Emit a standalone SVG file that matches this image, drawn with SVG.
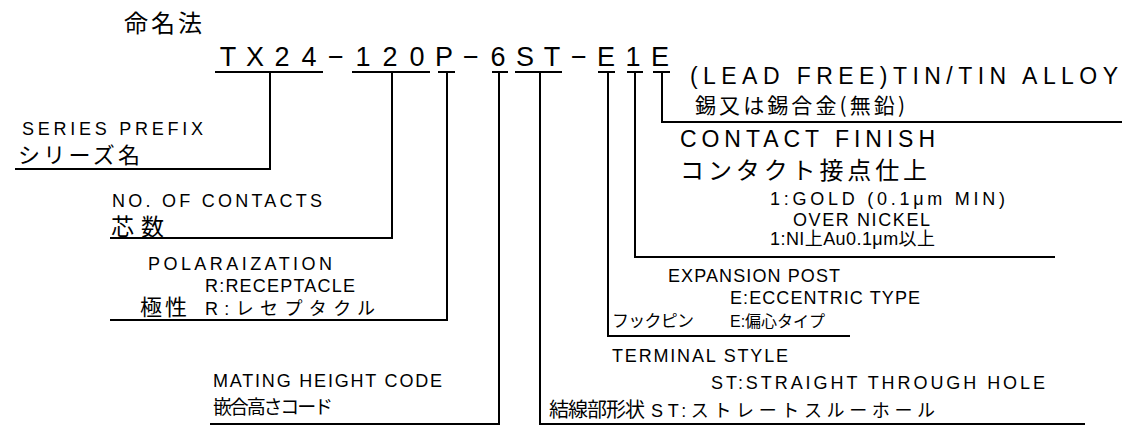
<svg xmlns="http://www.w3.org/2000/svg" width="1132" height="430" viewBox="0 0 1132 430">
<style>
text{fill:#000;font-family:"Liberation Sans","Noto Sans CJK JP",sans-serif}
.jp{font-family:"Noto Sans CJK JP","Liberation Sans",sans-serif}
.s{font-size:18px}
.m{font-size:23px}
.pn{font-size:27px;text-anchor:middle}
.ln{fill:none;stroke:#000;stroke-width:2}
</style>
<rect width="1132" height="430" fill="#fff"/>
<g id="title">
<text class="jp" x="124" y="32" font-size="24" textLength="78" lengthAdjust="spacing">命名法</text>
</g>
<g id="part-number">
<text class="pn" y="66" x="228 255 282 309 336 363 390 417 444 471 498 525 552 579 606 633 660">TX24−120P−6ST−E1E</text>
<path class="ln" d="M215 72H323M352 72H430M438 72H455M492 72H508M515 72H562M598 72H615M627 72H643M653 72H670"/>
</g>
<g id="connectors">
<path class="ln" d="M270 72V169H15"/>
<path class="ln" d="M392 72V238H110"/>
<path class="ln" d="M447 72V320H110"/>
<path class="ln" d="M499 72V424H210"/>
<path class="ln" d="M540 72V424H1085"/>
<path class="ln" d="M608 72V336H850"/>
<path class="ln" d="M635 72V257H1055"/>
<path class="ln" d="M662 72V122H1122"/>
</g>
<g id="series-prefix">
<text class="s" x="22" y="135" textLength="181" lengthAdjust="spacing">SERIES PREFIX</text>
<text class="jp" x="18" y="163" font-size="22" textLength="122" lengthAdjust="spacing">シリーズ名</text>
</g>
<g id="no-of-contacts">
<text class="s" x="112" y="207" textLength="210" lengthAdjust="spacing">NO. OF CONTACTS</text>
<text class="jp" x="111" y="235" font-size="23" textLength="53" lengthAdjust="spacing">芯数</text>
</g>
<g id="polarization">
<text class="s" x="148" y="270" textLength="184" lengthAdjust="spacing">POLARAIZATION</text>
<text class="s" x="205" y="292" textLength="150" lengthAdjust="spacing">R:RECEPTACLE</text>
<text class="jp" x="140" y="315" font-size="22" textLength="47" lengthAdjust="spacing">極性</text>
<text class="s" x="205" y="315" textLength="170" lengthAdjust="spacing">R:レセプタクル</text>
</g>
<g id="mating-height">
<text class="s" x="213" y="387" textLength="229" lengthAdjust="spacing">MATING HEIGHT CODE</text>
<text class="jp" x="213" y="414" font-size="19" textLength="120" lengthAdjust="spacing">嵌合高さコード</text>
</g>
<g id="terminal-style">
<text class="s" x="612" y="362" textLength="176" lengthAdjust="spacing">TERMINAL STYLE</text>
<text class="s" x="711" y="389" textLength="334" lengthAdjust="spacing">ST:STRAIGHT THROUGH HOLE</text>
<text class="jp" x="549" y="417" font-size="20" textLength="96" lengthAdjust="spacing">結線部形状</text>
<text class="s" x="651" y="417" textLength="284" lengthAdjust="spacing">ST:ストレートスルーホール</text>
</g>
<g id="expansion-post">
<text class="s" x="668" y="282" textLength="172" lengthAdjust="spacing">EXPANSION POST</text>
<text class="s" x="730" y="304" textLength="190" lengthAdjust="spacing">E:ECCENTRIC TYPE</text>
<text class="jp" x="612" y="327" font-size="17" textLength="82" lengthAdjust="spacing">フックピン</text>
<text x="730" y="327" font-size="16">E:偏心タイプ</text>
</g>
<g id="contact-finish">
<text class="m" x="680" y="147" textLength="255" lengthAdjust="spacing">CONTACT FINISH</text>
<text class="jp" x="680" y="179" font-size="24" textLength="247" lengthAdjust="spacing">コンタクト接点仕上</text>
<text class="s" x="770" y="205" textLength="235" lengthAdjust="spacing">1:GOLD (0.1μm MIN)</text>
<text class="s" x="793" y="226" textLength="137" lengthAdjust="spacing">OVER NICKEL</text>
<text class="s" x="770" y="245" textLength="165" lengthAdjust="spacing">1:NI上Au0.1μm以上</text>
</g>
<g id="plating">
<text class="m" x="690" y="84" textLength="428" lengthAdjust="spacing">(LEAD FREE)TIN/TIN ALLOY</text>
<text class="jp" x="695" y="113" font-size="21" textLength="210" lengthAdjust="spacing">錫又は錫合金(無鉛)</text>
</g>
</svg>
